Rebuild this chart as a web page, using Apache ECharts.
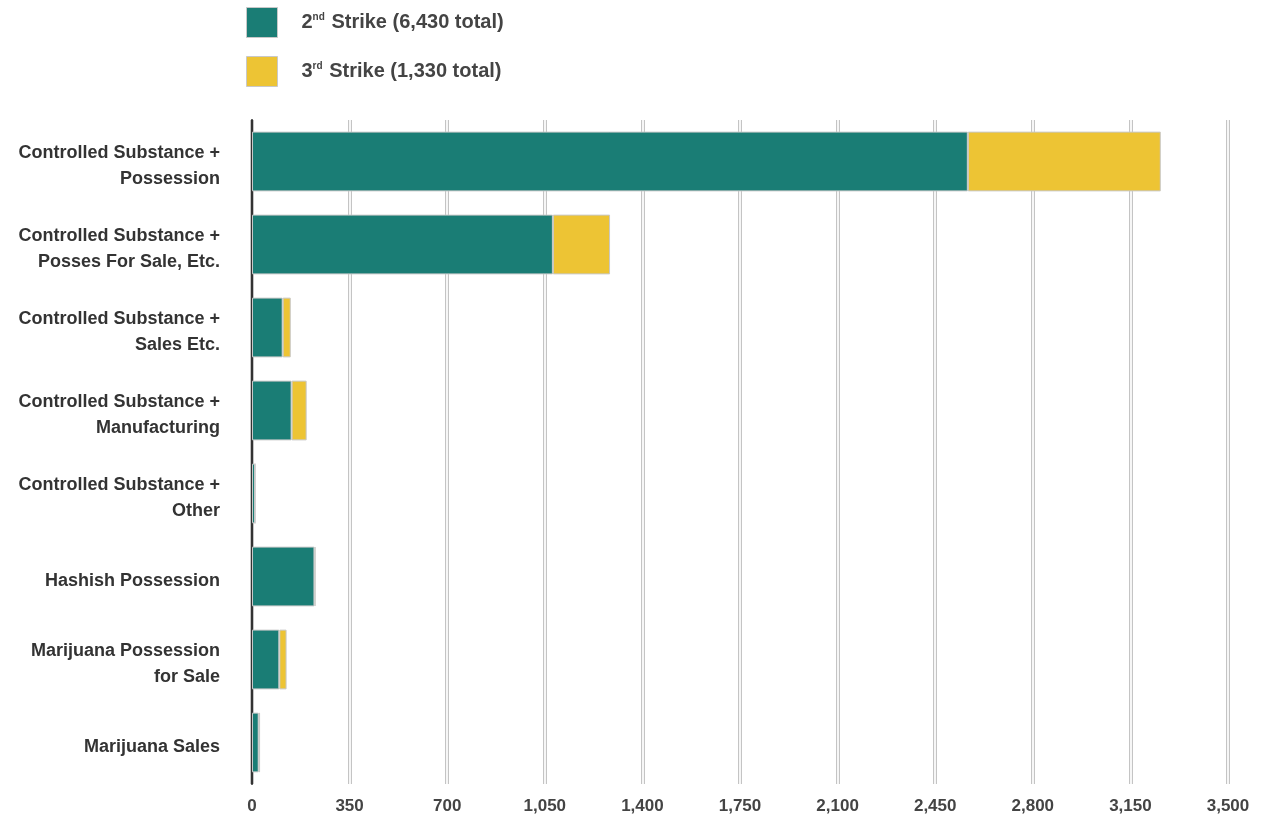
<!DOCTYPE html>
<html><head><meta charset="utf-8">
<script src="https://cdn.jsdelivr.net/npm/echarts@6/dist/echarts.min.js"></script>
<style>html,body{margin:0;padding:0;background:#fff}#c{width:1267px;height:820px}</style>
</head><body><div id="c"></div>
<script>
const categories = [
  'Controlled Substance +\nPossession',
  'Controlled Substance +\nPosses For Sale, Etc.',
  'Controlled Substance +\nSales Etc.',
  'Controlled Substance +\nManufacturing',
  'Controlled Substance +\nOther',
  'Hashish Possession',
  'Marijuana Possession\nfor Sale',
  'Marijuana Sales'
];
const secondStrike = [2567, 1079, 110, 142, 11, 224, 98, 24];
const thirdStrike = [692, 205, 29, 54, 0, 4, 26, 5];
const seriesNames = ['2nd Strike (6,430 total)', '3rd Strike (1,330 total)'];
const xTicks = [0, 350, 700, 1050, 1400, 1750, 2100, 2450, 2800, 3150, 3500];

const font = "'Liberation Sans', Arial, sans-serif";
const chart = echarts.init(document.getElementById('c'));
const grid = {left: 252, right: 39, top: 120, bottom: 36};
chart.setOption({
  animation: false,
  legend: {
    orient: 'vertical', left: 246, top: 7, padding: 0, itemWidth: 31, itemHeight: 30, itemGap: 18,
    icon: 'rect',
    data: seriesNames,
    itemStyle: {borderColor: '#c8c8c8', borderWidth: 1},
    formatter: function (n) {
      return n.replace(/^(\d)(nd|rd)/, '$1{sup|$2}');
    },
    textStyle: {
      fontFamily: font, fontWeight: 'bold', fontSize: 20, color: '#444', padding: [0, 0, 0, 19],
      rich: {sup: {fontFamily: font, fontWeight: 'bold', fontSize: 10, color: '#444', verticalAlign: 'top', padding: [0, 1, 10, 0]}}
    }
  },
  grid: grid,
  xAxis: [{
    type: 'value', min: 0, max: 3500, interval: 350,
    axisLine: {show: false}, axisTick: {show: false},
    axisLabel: {fontFamily: font, fontWeight: 'bold', fontSize: 17, color: '#444', margin: 14,
      formatter: function (v) { return v.toLocaleString('en-US'); }},
    splitLine: {show: true, lineStyle: {color: '#c4c4c4', width: 4}}
  }, {
    type: 'value', min: 0, max: 3500, interval: 350, position: 'bottom',
    axisLine: {show: false}, axisTick: {show: false}, axisLabel: {show: false},
    splitLine: {show: true, lineStyle: {color: '#f6f6f6', width: 2}}
  }],
  yAxis: {
    type: 'category', data: categories, inverse: true,
    axisLine: {show: true, lineStyle: {color: '#333', width: 2}},
    axisTick: {show: false},
    axisLabel: {
      margin: 32, align: 'right',
      formatter: function (v) {
        return '{s|}\n' + v.split('\n').map(function (l) { return '{a|' + l + '}'; }).join('\n');
      },
      rich: {
        s: {height: 9, lineHeight: 9, fontSize: 4},
        a: {fontFamily: font, fontWeight: 'bold', fontSize: 18, color: '#333', lineHeight: 26, align: 'right'}
      }
    }
  },
  series: [{
    name: seriesNames[0], type: 'bar', stack: 's', data: secondStrike, barWidth: '72%',
    itemStyle: {color: '#1a7d75', borderColor: '#c8c8c8', borderWidth: 1}
  }, {
    name: seriesNames[1], type: 'bar', stack: 's', data: thirdStrike, barWidth: '72%',
    itemStyle: {color: '#edc434', borderColor: '#c8c8c8', borderWidth: 1}
  }]
});
</script></body></html>
